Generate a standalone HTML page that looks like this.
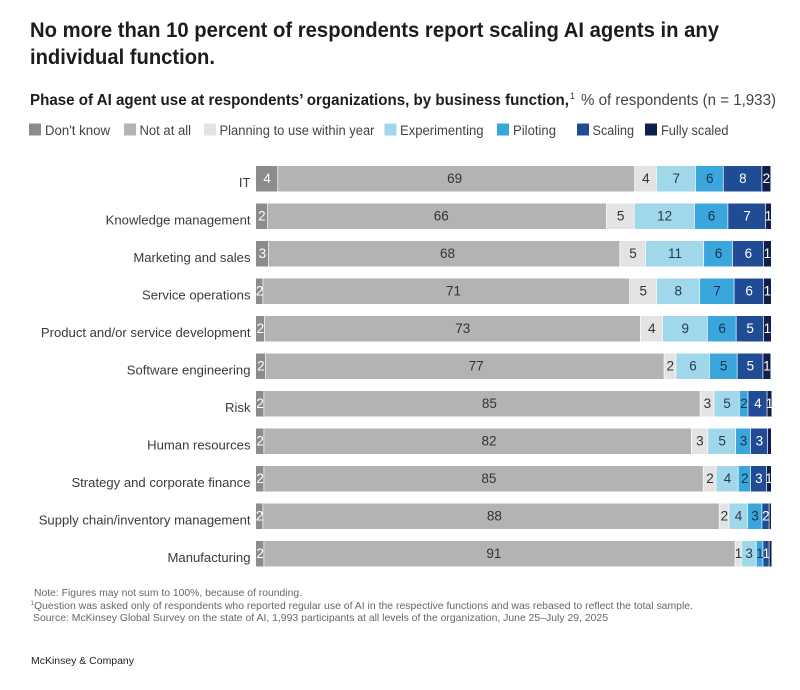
<!DOCTYPE html>
<html lang="en">
<head>
<meta charset="utf-8">
<title>Phase of AI agent use by business function</title>
<style>
html,body{margin:0;padding:0;background:#fff;width:800px;height:690px;overflow:hidden}
svg{display:block;font-family:"Liberation Sans",sans-serif}
</style>
</head>
<body>
<svg id="chart" width="800" height="690" viewBox="0 0 800 690" xmlns="http://www.w3.org/2000/svg">
<text x="30" y="37" font-size="21.5" font-weight="700" fill="#1c1c1c" textLength="689" lengthAdjust="spacingAndGlyphs">No more than 10 percent of respondents report scaling AI agents in any</text>
<text x="30" y="64" font-size="21.5" font-weight="700" fill="#1c1c1c" textLength="185" lengthAdjust="spacingAndGlyphs">individual function.</text>
<text x="30" y="105" font-size="15.5" font-weight="700" fill="#1c1c1c" textLength="539" lengthAdjust="spacingAndGlyphs">Phase of AI agent use at respondents’ organizations, by business function,</text>
<text x="570" y="99" font-size="9" fill="#333">1</text>
<text x="581" y="105" font-size="15.5" fill="#444" textLength="195" lengthAdjust="spacingAndGlyphs">% of respondents (n = 1,933)</text>

<g font-size="13.5" fill="#444">
<rect x="29" y="123.5" width="12" height="12" fill="#8c8c8c"/>
<text x="45" y="135" textLength="65" lengthAdjust="spacingAndGlyphs">Don't know</text>
<rect x="124" y="123.5" width="12" height="12" fill="#b3b3b3"/>
<text x="139.5" y="135" textLength="51.5" lengthAdjust="spacingAndGlyphs">Not at all</text>
<rect x="204" y="123.5" width="12" height="12" fill="#e3e3e3"/>
<text x="219.5" y="135" textLength="155" lengthAdjust="spacingAndGlyphs">Planning to use within year</text>
<rect x="384.5" y="123.5" width="12" height="12" fill="#a0d7ea"/>
<text x="400" y="135" textLength="83.5" lengthAdjust="spacingAndGlyphs">Experimenting</text>
<rect x="497" y="123.5" width="12" height="12" fill="#3aa6dc"/>
<text x="513" y="135" textLength="43" lengthAdjust="spacingAndGlyphs">Piloting</text>
<rect x="577" y="123.5" width="12" height="12" fill="#204c96"/>
<text x="592.5" y="135" textLength="41.5" lengthAdjust="spacingAndGlyphs">Scaling</text>
<rect x="645" y="123.5" width="12" height="12" fill="#0f1e4b"/>
<text x="661" y="135" textLength="67.5" lengthAdjust="spacingAndGlyphs">Fully scaled</text>
</g>

<g id="plot"></g>

<g font-size="10.5" fill="#666">
<text x="34" y="596" textLength="268" lengthAdjust="spacingAndGlyphs">Note: Figures may not sum to 100%, because of rounding.</text>
<text x="30.5" y="605" font-size="6">1</text>
<text x="34" y="609" textLength="659" lengthAdjust="spacingAndGlyphs">Question was asked only of respondents who reported regular use of AI in the respective functions and was rebased to reflect the total sample.</text>
<text x="33" y="621" textLength="575" lengthAdjust="spacingAndGlyphs">Source: McKinsey Global Survey on the state of AI, 1,993 participants at all levels of the organization, June 25–July 29, 2025</text>
</g>
<text x="31" y="664" font-size="10.5" fill="#222" textLength="103" lengthAdjust="spacingAndGlyphs">McKinsey &amp; Company</text>
</svg>
<script>
const categories = ["IT","Knowledge management","Marketing and sales","Service operations","Product and/or service development","Software engineering","Risk","Human resources","Strategy and corporate finance","Supply chain/inventory management","Manufacturing"];
const dontKnow      = [4.3,2.3,2.5,1.4,1.7,1.9,1.6,1.6,1.6,1.4,1.6];
const notAtAll      = [69.3,65.8,68.2,71.2,73.0,77.4,84.7,83.0,85.3,88.6,91.5];
const planning      = [4.2,5.4,5.0,5.2,4.3,2.3,2.7,3.2,2.5,1.9,1.2];
const experimenting = [7.6,11.7,11.3,8.4,8.7,6.5,4.9,5.4,4.3,3.6,2.9];
const piloting      = [5.4,6.5,5.6,6.7,5.6,5.4,1.7,2.9,2.4,2.8,1.3];
const scaling       = [7.5,7.3,6.0,5.7,5.3,5.0,3.7,3.3,3.1,1.4,1.2];
const fullyScaled   = [1.6,1.0,1.4,1.4,1.4,1.4,0.8,0.6,0.8,0.3,0.4];
const dontKnowLabels      = ["4","2","3","2","2","2","2","2","2","2","2"];
const notAtAllLabels      = ["69","66","68","71","73","77","85","82","85","88","91"];
const planningLabels      = ["4","5","5","5","4","2","3","3","2","2","1"];
const experimentingLabels = ["7","12","11","8","9","6","5","5","4","4","3"];
const pilotingLabels      = ["6","6","6","7","6","5","2","3","2","3","1"];
const scalingLabels       = ["8","7","6","6","5","5","4","3","3","2","1"];
const fullyScaledLabels   = ["2","1","1","1","1","1","1","","1","",""];
const seriesNames = ["dont-know","not-at-all","planning","experimenting","piloting","scaling","fully-scaled"];
const seriesValues = [dontKnow,notAtAll,planning,experimenting,piloting,scaling,fullyScaled];
const seriesLabels = [dontKnowLabels,notAtAllLabels,planningLabels,experimentingLabels,pilotingLabels,scalingLabels,fullyScaledLabels];
const seriesColors = ["#8c8c8c","#b3b3b3","#e3e3e3","#a0d7ea","#3aa6dc","#204c96","#0f1e4b"];
const labelColors  = ["#fff","#333","#333","#2b3a4a","#17344d","#fff","#fff"];

const NS = "http://www.w3.org/2000/svg";
const plot = document.getElementById("plot");
const xLeft = 256, xScale = 5.15;
const yTop = 166, rowStep = 37.5, barH = 25.5;
/* layout only: the source places the large grey-bar labels off-centre */
const greyLabelNudge = [-2,4,3,7,10,11,7,11,5,3,-6];
function xAxis(v){ return xLeft + v * xScale; }
function yAxis(i){ return yTop + i * rowStep; }

categories.forEach(function(cat, i){
  const lab = document.createElementNS(NS, "text");
  
  
  lab.setAttribute("x", 250.5);
  lab.setAttribute("y", yAxis(i) + 21);
  lab.setAttribute("text-anchor", "end");
  lab.setAttribute("font-size", "13.1");
  lab.setAttribute("fill", "#3a3a3a");
  lab.textContent = cat;
  plot.appendChild(lab);

  let cum = 0;
  seriesValues.forEach(function(vals, s){
    const v = vals[i];
    const rect = document.createElementNS(NS, "rect");
    
    
    rect.setAttribute("x", xAxis(cum));
    rect.setAttribute("y", yAxis(i));
    rect.setAttribute("width", Math.max(v * xScale - (s < 6 ? 0.7 : 0), 0.5));
    rect.setAttribute("height", barH);
    rect.setAttribute("fill", seriesColors[s]);
    rect.setAttribute("class", "series-" + seriesNames[s]);
    plot.appendChild(rect);
    const txt = seriesLabels[s][i];
    if (txt !== "") {
      const t = document.createElementNS(NS, "text");
      
      
      t.setAttribute("x", xAxis(cum + v / 2) + (s === 1 ? greyLabelNudge[i] : 0));
      t.setAttribute("y", yAxis(i) + 17);
      t.setAttribute("text-anchor", "middle");
      t.setAttribute("font-size", "13.5");
      t.setAttribute("fill", labelColors[s]);
      t.textContent = txt;
      plot.appendChild(t);
    }
    cum += v;
  });
});
</script>
</body>
</html>
